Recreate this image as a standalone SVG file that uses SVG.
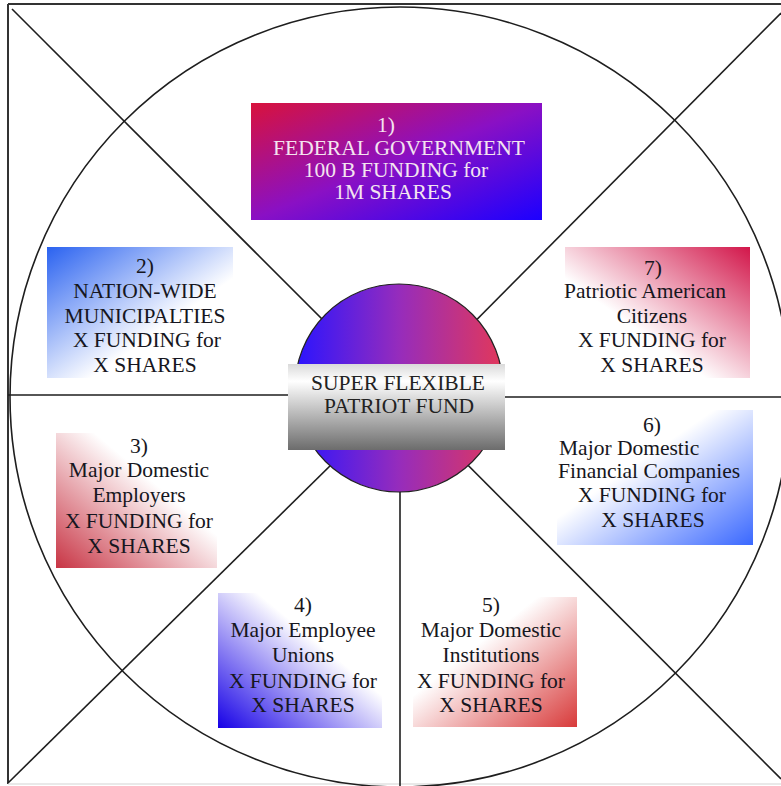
<svg xmlns="http://www.w3.org/2000/svg" width="781" height="786" viewBox="0 0 781 786">
<style>
.ln{stroke:#1e1e1e;stroke-width:1.6;fill:none}
.fr{stroke:#333;stroke-width:2;fill:none}
.tx{font-family:'Liberation Serif','Times New Roman','DejaVu Serif','Noto Serif',serif;font-size:21.5px;fill:#161620;text-anchor:middle}
.lt{fill:#f4e4f0}
.st{text-anchor:start}
</style>
<defs>
<linearGradient id="g1" x1="0" y1="0" x2="1" y2="1"><stop offset="0" stop-color="#d8123c"/><stop offset="0.5" stop-color="#8a10c4"/><stop offset="1" stop-color="#1c00ff"/></linearGradient>
<linearGradient id="g2" x1="0" y1="0" x2="1" y2="1"><stop offset="0" stop-color="#2a62f0"/><stop offset="0.62" stop-color="#ffffff"/><stop offset="1" stop-color="#ffffff"/></linearGradient>
<linearGradient id="g7" x1="1" y1="0" x2="0" y2="1"><stop offset="0" stop-color="#d2164a"/><stop offset="0.62" stop-color="#ffffff"/><stop offset="1" stop-color="#ffffff"/></linearGradient>
<linearGradient id="g6" x1="0" y1="0" x2="1" y2="1"><stop offset="0" stop-color="#ffffff"/><stop offset="0.4" stop-color="#ffffff"/><stop offset="1" stop-color="#3a68ff"/></linearGradient>
<linearGradient id="g3" x1="0" y1="1" x2="1" y2="0"><stop offset="0" stop-color="#c83444"/><stop offset="0.62" stop-color="#ffffff"/><stop offset="1" stop-color="#ffffff"/></linearGradient>
<linearGradient id="g4" x1="0" y1="1" x2="1" y2="0"><stop offset="0" stop-color="#1600e6"/><stop offset="0.62" stop-color="#ffffff"/><stop offset="1" stop-color="#ffffff"/></linearGradient>
<linearGradient id="g5" x1="0" y1="0" x2="1" y2="1"><stop offset="0" stop-color="#ffffff"/><stop offset="0.38" stop-color="#ffffff"/><stop offset="1" stop-color="#d83a3a"/></linearGradient>
<linearGradient id="gc" x1="0" y1="0" x2="1" y2="0"><stop offset="0" stop-color="#2a14ff"/><stop offset="0.5" stop-color="#962cbc"/><stop offset="1" stop-color="#e2385a"/></linearGradient>
<linearGradient id="gb" x1="0" y1="0" x2="0" y2="1"><stop offset="0" stop-color="#dadada"/><stop offset="0.2" stop-color="#ffffff"/><stop offset="1" stop-color="#6c6c6c"/></linearGradient>
</defs>
<rect x="0" y="0" width="781" height="786" fill="#ffffff"/>
<g id="frame">
<line class="fr" x1="8" y1="4" x2="781" y2="4"/>
<line class="fr" x1="8" y1="4" x2="8" y2="784"/>
<line x1="8" y1="784" x2="781" y2="784" stroke="#e2e2e2" stroke-width="1.5"/>
<circle class="ln" cx="400" cy="397" r="390"/>
</g>
<g id="connectors">
<line class="ln" x1="12" y1="9" x2="400" y2="397"/>
<line class="ln" x1="781" y1="13" x2="400" y2="397"/>
<line class="ln" x1="8" y1="783" x2="400" y2="397"/>
<line class="ln" x1="781" y1="779" x2="400" y2="397"/>
<line class="ln" x1="8" y1="395" x2="400" y2="395"/>
<line class="ln" x1="400" y1="397" x2="781" y2="397"/>
<line class="ln" x1="400" y1="397" x2="400" y2="786"/>
</g>
<g id="center" class="tx">
<circle cx="399" cy="388" r="104" fill="url(#gc)" stroke="#222" stroke-width="1.2"/>
<rect x="288" y="364" width="217" height="86" fill="url(#gb)"/>
<text x="398" y="390" style="fill:#222">SUPER FLEXIBLE</text>
<text x="399" y="413" style="fill:#222">PATRIOT FUND</text>
</g>
<g id="node1" class="tx">
<rect x="251" y="103" width="291" height="117" fill="url(#g1)"/>
<text class="lt" x="386" y="132">1)</text>
<text class="lt" x="399" y="155">FEDERAL GOVERNMENT</text>
<text class="lt" x="396" y="177">100 B FUNDING for</text>
<text class="lt" x="393" y="199">1M SHARES</text>
</g>
<g id="node2" class="tx">
<rect x="47" y="247" width="186" height="131" fill="url(#g2)"/>
<text x="145" y="273">2)</text>
<text x="145" y="298">NATION-WIDE</text>
<text x="145" y="323">MUNICIPALTIES</text>
<text x="147" y="347">X FUNDING for</text>
<text x="145" y="372">X SHARES</text>
</g>
<g id="node7" class="tx">
<rect x="565" y="247" width="185" height="131" fill="url(#g7)"/>
<text x="653" y="275">7)</text>
<text x="645" y="298">Patriotic American</text>
<text x="652" y="323">Citizens</text>
<text x="652" y="347">X FUNDING for</text>
<text x="652" y="372">X SHARES</text>
</g>
<g id="node6" class="tx">
<rect x="557" y="410" width="196" height="135" fill="url(#g6)"/>
<text x="652" y="432">6)</text>
<text class="st" x="559" y="455">Major Domestic</text>
<text class="st" x="558" y="478">Financial Companies</text>
<text x="652" y="502">X FUNDING for</text>
<text x="653" y="527">X SHARES</text>
</g>
<g id="node3" class="tx">
<rect x="56" y="433" width="161" height="135" fill="url(#g3)"/>
<text x="139" y="453">3)</text>
<text x="139" y="477">Major Domestic</text>
<text x="139" y="502">Employers</text>
<text x="139" y="528">X FUNDING for</text>
<text x="139" y="553">X SHARES</text>
</g>
<g id="node4" class="tx">
<rect x="218" y="593" width="164" height="135" fill="url(#g4)"/>
<text x="303" y="612">4)</text>
<text x="303" y="637">Major Employee</text>
<text x="303" y="662">Unions</text>
<text x="303" y="688">X FUNDING for</text>
<text x="303" y="712">X SHARES</text>
</g>
<g id="node5" class="tx">
<rect x="413" y="597" width="164" height="130" fill="url(#g5)"/>
<text x="491" y="612">5)</text>
<text x="491" y="637">Major Domestic</text>
<text x="491" y="662">Institutions</text>
<text x="491" y="688">X FUNDING for</text>
<text x="491" y="712">X SHARES</text>
</g>
</svg>
